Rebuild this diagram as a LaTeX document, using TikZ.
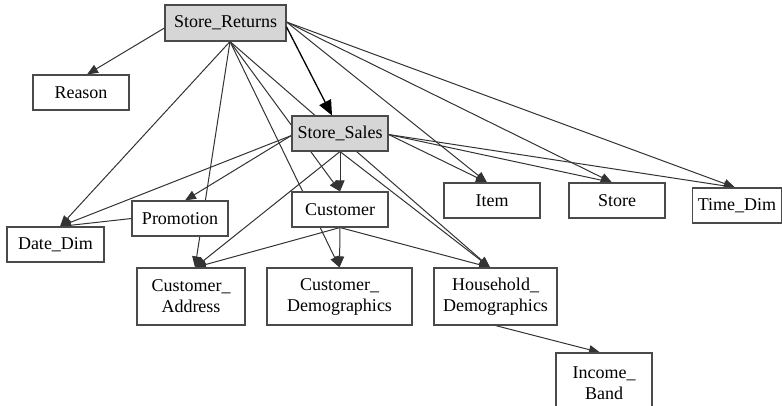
\documentclass[tikz,border=0pt]{standalone}
\usepackage{fontspec}
\setmainfont{Liberation Serif}
\newfontfamily\tblfont{Liberation Serif}
\usetikzlibrary{arrows.meta,backgrounds}
\definecolor{edgegray}{HTML}{333333}
\definecolor{boxgray}{HTML}{4A4A4A}
\definecolor{factfill}{HTML}{D6D6D6}
\tikzset{
  tbl/.style={draw=boxgray, line width=1.1pt, fill=white, inner sep=0pt,
    align=center, font=\tblfont\fontsize{18}{21}\selectfont},
  fact/.style={tbl, fill=factfill},
  rel/.style={draw=edgegray, line width=1pt, -{Triangle[length=11pt,width=9pt]}},
  mainrel/.style={draw=black, line width=1.3pt, -{Triangle[length=15pt,width=13pt]}}
}
\begin{document}
\begin{tikzpicture}[x=1pt,y=-1pt]
\useasboundingbox (0,0) rectangle (782,405);
\clip (0,0) rectangle (782,405);
% tables
\node[fact, minimum width=121pt, minimum height=36pt] (sr) at (225.5,23) {Store\_Returns};
\node[tbl, minimum width=96pt, minimum height=35pt] (rn) at (81,92.5) {Reason};
\node[fact, minimum width=96pt, minimum height=35pt] (ss) at (340,133.5) {Store\_Sales};
\node[tbl, minimum width=96pt, minimum height=35pt] (item) at (492,200.5) {Item};
\node[tbl, minimum width=96pt, minimum height=35pt] (st) at (617,200.5) {Store};
\node[tbl, minimum width=89pt, minimum height=35pt] (td) at (737,205.5) {Time\_Dim};
\node[tbl, minimum width=96pt, minimum height=35pt] (pr) at (180,218.5) {Promotion};
\node[tbl, minimum width=97pt, minimum height=35pt] (dd) at (55.5,244.5) {Date\_Dim};
\node[tbl, minimum width=96pt, minimum height=35pt] (cu) at (340,209.5) {Customer};
\node[tbl, minimum width=108pt, minimum height=57pt] (ca) at (191,296.5) {Customer\_\\Address};
\node[tbl, minimum width=145pt, minimum height=57pt] (cd) at (339.5,296.5) {Customer\_\\Demographics};
\node[tbl, minimum width=123pt, minimum height=57pt] (hd) at (495.5,296.5) {Household\_\\Demographics};
\node[tbl, minimum width=96pt, minimum height=60pt] (ib) at (604,383) {Income\_\\Band};
% connectors
\begin{scope}[on background layer]
% from Store_Returns
\draw[rel] ([yshift=-5pt]sr.west) -- ([xshift=6pt]rn.north);
\draw[rel] ([xshift=4.5pt]sr.south) -- ([xshift=4.5pt]dd.north);
\draw[rel] ([xshift=4.5pt]sr.south) -- ([xshift=4pt]ca.north);
\draw[rel] ([xshift=4.5pt]sr.south) -- (cd.north);
\draw[rel] ([xshift=4.5pt]sr.south) -- (cu.north);
\draw[rel] ([xshift=4.5pt]sr.south) -- ([xshift=-5.5pt]hd.north);
\draw[rel] ([yshift=1pt]sr.east) -- ([xshift=-5pt]item.north);
\draw[rel] ([yshift=1pt]sr.east) -- ([xshift=-5pt]st.north);
\draw[rel] ([yshift=1pt]sr.east) -- ([xshift=-2pt]td.north);
% from Store_Sales
\draw[rel] ([yshift=-2pt]ss.west) -- ([xshift=4.5pt]dd.north);
\draw[rel] ([yshift=-2pt]ss.west) -- ([xshift=5pt]pr.north);
\draw[rel] (ss.south) -- ([xshift=4pt]ca.north);
\draw[rel] (ss.south) -- (cu.north);
\draw[rel] (ss.south) -- ([xshift=-5.5pt]hd.north);
\draw[rel] ([yshift=-1pt]ss.east) -- ([xshift=-5pt]item.north);
\draw[rel] ([yshift=-1pt]ss.east) -- ([xshift=-5pt]st.north);
\draw[rel] ([yshift=-1pt]ss.east) -- ([xshift=-2pt]td.north);
% from Promotion
\draw[rel] (pr.west) -- ([xshift=4.5pt]dd.north);
% from Customer
\draw[rel] (cu.south) -- ([xshift=4pt]ca.north);
\draw[rel] (cu.south) -- (cd.north);
\draw[rel] (cu.south) -- ([xshift=-5.5pt]hd.north);
% from Household_Demographics
\draw[rel] (hd.south) -- ([xshift=-4pt]ib.north);
\end{scope}
\draw[mainrel] ([yshift=-4pt]sr.east) -- ([xshift=-8pt]ss.north);
\end{tikzpicture}
\end{document}
